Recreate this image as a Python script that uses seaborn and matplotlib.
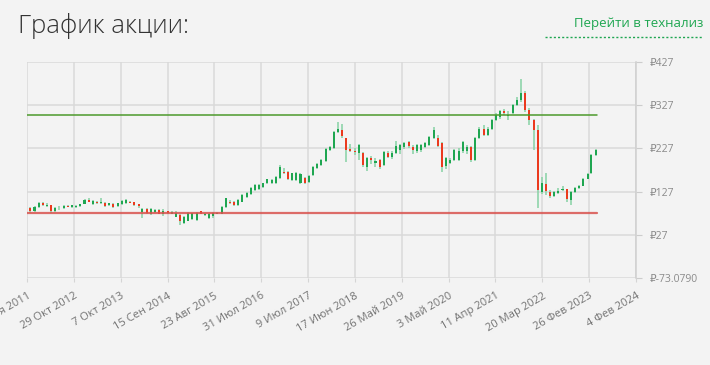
import matplotlib
matplotlib.use("Agg")
import matplotlib.pyplot as plt
import matplotlib.dates as mdates
from matplotlib.lines import Line2D
import numpy as np
import pandas as pd
import seaborn as sns

# monthly candles, Nov 2011 .. Apr 2023 (rubles)
first_month = "2011-11-01"
opens = [78, 88,
         81, 92, 100, 93, 96, 82, 88, 90, 94, 92, 91, 93,
         99, 108, 99, 104, 100, 100, 95, 98, 93, 98, 101, 104,
         103, 98, 79, 87, 74, 79, 85, 74, 81, 76, 69, 72,
         55, 60, 64, 62, 81, 72, 66, 70, 76, 76, 92, 104,
         104, 96, 104, 115, 122, 131, 133, 138, 146, 146, 146, 158,
         173, 173, 154, 154, 146, 158, 150, 166, 181, 188, 198, 224,
         228, 264, 270, 250, 225, 222, 216, 216, 185, 205, 193, 200,
         188, 217, 208, 216, 223, 230, 241, 231, 220, 223, 231, 235,
         251, 250, 239, 186, 194, 200, 200, 220, 220, 231, 200, 250,
         273, 258, 273, 293, 299, 313, 302, 310, 327, 339, 355, 316,
         293, 270, 127, 145, 127, 117, 124, 130, 132, 108, 127, 135,
         141, 157, 169, 212]
highs = [90, 92,
         94, 103, 104, 100, 97, 91, 93, 95, 97, 97, 96, 99,
         110, 111, 107, 105, 111, 102, 101, 100, 101, 108, 109, 106,
         104, 99, 89, 88, 88, 87, 86, 86, 83, 82, 82, 74,
         70, 80, 78, 80, 83, 77, 77, 80, 80, 94, 113, 107,
         106, 110, 121, 127, 137, 145, 144, 148, 157, 156, 162, 188,
         182, 175, 171, 172, 170, 160, 165, 187, 194, 202, 228, 233,
         268, 287, 283, 252, 236, 228, 237, 218, 208, 210, 205, 202,
         222, 220, 220, 245, 238, 242, 244, 234, 237, 237, 241, 256,
         276, 258, 241, 207, 204, 226, 228, 245, 235, 233, 253, 276,
         281, 276, 295, 308, 316, 318, 313, 330, 345, 388, 360, 320,
         296, 282, 160, 169, 130, 128, 135, 140, 134, 129, 137, 143,
         159, 171, 214, 226]
lows = [74, 78,
        79, 90, 93, 91, 78, 80, 85, 87, 91, 88, 88, 91,
        98, 102, 97, 99, 98, 91, 93, 89, 91, 97, 99, 100,
        94, 90, 66, 74, 72, 77, 74, 71, 76, 75, 67, 50,
        53, 58, 62, 60, 74, 70, 64, 66, 74, 74, 90, 98,
        93, 94, 102, 113, 120, 129, 131, 136, 144, 144, 144, 156,
        168, 153, 152, 152, 144, 144, 148, 163, 179, 186, 195, 221,
        226, 262, 252, 195, 218, 212, 200, 185, 175, 190, 185, 180,
        186, 205, 203, 214, 215, 226, 228, 214, 217, 219, 229, 233,
        249, 230, 172, 180, 190, 198, 198, 216, 215, 196, 197, 248,
        255, 255, 270, 290, 296, 305, 292, 307, 325, 335, 312, 280,
        223, 89, 122, 120, 113, 115, 121, 128, 103, 96, 124, 132,
        139, 155, 167, 210]
closes = [87, 81,
          92, 100, 95, 97, 81, 88, 90, 94, 92, 95, 94, 98,
          108, 104, 105, 101, 104, 93, 100, 91, 100, 106, 107, 101,
          95, 93, 87, 77, 87, 85, 76, 82, 78, 80, 78, 58,
          68, 78, 77, 78, 76, 75, 75, 77, 78, 92, 111, 100,
          96, 108, 119, 124, 135, 142, 142, 146, 155, 153, 160, 185,
          171, 155, 169, 169, 168, 146, 163, 185, 192, 200, 225, 230,
          266, 272, 255, 223, 221, 218, 235, 189, 205, 201, 198, 185,
          219, 207, 217, 232, 235, 239, 233, 223, 235, 234, 239, 254,
          270, 233, 185, 204, 201, 223, 220, 242, 231, 200, 250, 273,
          258, 273, 293, 305, 313, 309, 305, 328, 340, 355, 316, 293,
          270, 131, 146, 128, 117, 125, 129, 132, 109, 127, 135, 141,
          157, 168, 212, 223]

# horizontal levels
resistance = 304
support = 77.5

tick_dates = ["2011-11-21", "2012-10-29", "2013-10-07", "2014-09-15",
              "2015-08-23", "2016-07-31", "2017-07-09", "2018-06-17",
              "2019-05-26", "2020-05-03", "2021-04-11", "2022-03-20",
              "2023-02-26", "2024-02-04"]
tick_labels = ["21 Ноя 2011", "29 Окт 2012", "7 Окт 2013", "15 Сен 2014",
               "23 Авг 2015", "31 Июл 2016", "9 Июл 2017", "17 Июн 2018",
               "26 Май 2019", "3 Май 2020", "11 Апр 2021", "20 Мар 2022",
               "26 Фев 2023", "4 Фев 2024"]
y_ticks = [-73.079, 27, 127, 227, 327, 427]
y_labels = ["₽-73.0790", "₽27", "₽127", "₽227", "₽327", "₽427"]

BG = "#f3f3f3"
GREEN = "#1fa651"
WICK = "#8fd4aa"
RED = "#eb3a1e"

sns.set_theme(style="whitegrid")
plt.rcParams["font.family"] = ["Open Sans", "DejaVu Sans"]

df = pd.DataFrame({"open": opens, "high": highs, "low": lows, "close": closes})
df["date"] = pd.date_range(first_month, periods=len(df), freq="MS") + pd.Timedelta(days=14)
df["up"] = df["close"] >= df["open"]

fig = plt.figure(figsize=(7.1, 3.65), dpi=100, facecolor=BG)
ax = fig.add_axes([27 / 710, 1 - 278 / 365, 609 / 710, 216 / 365])
ax.set_facecolor(BG)

x = mdates.date2num(df["date"])
ax.vlines(x, df["low"], df["high"], color=WICK, lw=1.2, zorder=2)
bottoms = np.minimum(df["open"], df["close"])
heights = np.maximum(np.abs(df["close"] - df["open"]), 0.8)
colors = np.where(df["up"], GREEN, RED)
ax.bar(x, heights, bottom=bottoms, width=15, color=colors, linewidth=0, zorder=3)

# level lines over the candle range
lv = pd.DataFrame({"date": [df["date"].iloc[0], df["date"].iloc[-1] + pd.Timedelta(days=8)] * 2,
                   "value": [resistance, resistance, support, support],
                   "level": ["r", "r", "s", "s"]})
sns.lineplot(data=lv, x="date", y="value", hue="level",
             palette={"r": "#4d9a2c", "s": "#d9534f"}, legend=False, ax=ax, zorder=4)
ax.lines[-2].set_linewidth(1.1)
ax.lines[-1].set_linewidth(1.6)
ax.lines[-1].set_alpha(0.85)

ax.set_xlim(pd.Timestamp("2011-11-21"), pd.Timestamp("2024-02-04"))
ax.set_ylim(y_ticks[0], y_ticks[-1])
ax.set_xticks(pd.to_datetime(tick_dates))
ax.set_xticklabels(tick_labels, rotation=30, ha="right", rotation_mode="anchor",
                   fontsize=8, color="#727272")
ax.yaxis.tick_right()
ax.set_yticks(y_ticks)
ax.set_yticklabels(y_labels, fontsize=7.5, color="#8a8a8a")
ax.tick_params(axis="y", length=4, width=0.8, color="#cccccc", pad=6, right=True)
ax.tick_params(axis="x", length=3, width=0.8, color="#d5d5d5", pad=6, bottom=True)
ax.grid(True, color="#d9d9d9", lw=1.1)
ax.set_xlabel("")
ax.set_ylabel("")
for side in ["top", "left", "bottom"]:
    ax.spines[side].set_visible(False)
ax.spines["right"].set_color("#cfcfcf")
ax.spines["right"].set_linewidth(1.1)

fig.text(18 / 710, 1 - 26 / 365, "График акции:", fontsize=18.5, fontweight="light",
         color="#333333", va="center", ha="left")
fig.text(703 / 710, 1 - 24 / 365, "Перейти в технализ", fontsize=9.5,
         color="#1fa651", va="center", ha="right")
fig.add_artist(Line2D([545 / 710, 703 / 710], [1 - 37 / 365, 1 - 37 / 365],
                      transform=fig.transFigure, color="#1fa651", lw=1.0,
                      linestyle=(0, (1.5, 1.5))))

fig.savefig("out.png", dpi=100, facecolor=BG)
